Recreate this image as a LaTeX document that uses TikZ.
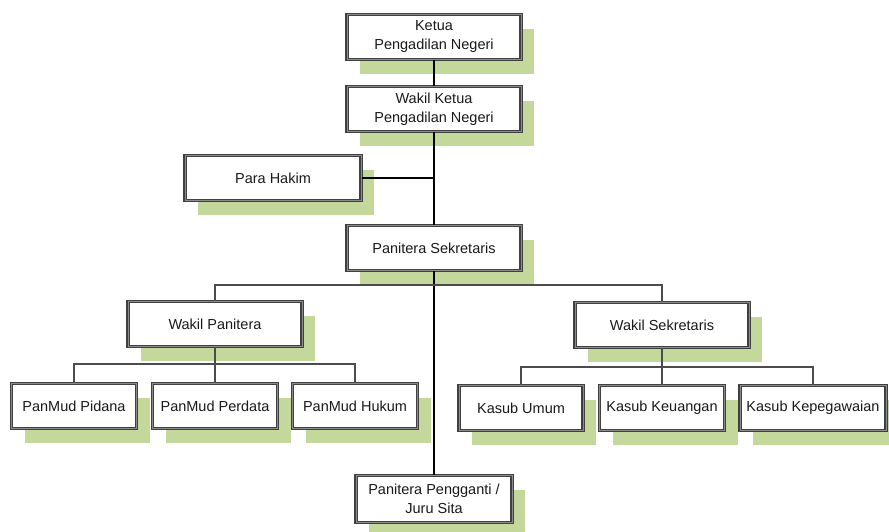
\documentclass[tikz,border=0pt]{standalone}
\usepackage{fontspec}
\setmainfont{Liberation Sans}
\usetikzlibrary{shadows, positioning}
\definecolor{kijau}{RGB}{196,216,156}
\tikzstyle{jabatan} = [rectangle, draw=black!75, double=black!45, double distance=1pt, line width=1.2pt, fill=white, text=black!90, align=center, minimum width=174pt, minimum height=45pt, inner sep=2pt, drop shadow={shadow xshift=13pt, shadow yshift=-14pt, fill=kijau, opacity=1}]
\tikzstyle{kecil} = [jabatan, minimum width=125pt]
\tikzstyle{garis} = [line width=1.6pt, black]
\tikzstyle{cabang} = [line width=1.3pt, black!70]

\begin{document}
\begin{tikzpicture}[x=1pt, y=1pt, node distance=72pt, every node/.style={font=\fontsize{14.5}{19}\selectfont}]
\useasboundingbox (0,0) rectangle (889,-531);

\node (ketua) [jabatan] at (434,-37) {Ketua\\Pengadilan Negeri};
\node (wketua) [jabatan, below of=ketua] {Wakil Ketua\\Pengadilan Negeri};
\node (hakim) [jabatan, minimum width=176pt] at (273,-178) {Para Hakim};
\node (pansek) [jabatan, below of=wketua, yshift=-67pt] {Panitera Sekretaris};
\node (wpan) [jabatan] at (215,-324) {Wakil Panitera};
\node (wsek) [jabatan] at (662,-325) {Wakil Sekretaris};

\node (pidana) [kecil] at (74,-406) {PanMud Pidana};
\node (perdata) [kecil] at (215,-406) {PanMud Perdata};
\node (hukum) [kecil] at (355,-406) {PanMud Hukum};

\node (umum) [kecil, minimum width=124pt] at (521,-408) {Kasub Umum};
\node (uang) [kecil] at (662,-408) {Kasub Keuangan};
\node (pegawai) [kecil, minimum width=146pt] at (813,-408) {Kasub Kepegawaian};

\node (pengganti) [jabatan, minimum width=156pt, minimum height=47pt] at (434,-499) {Panitera Pengganti /\\Juru Sita};

\coordinate (simpul) at (434,-285);
\coordinate (kiri) at (215,-364);
\coordinate (kanan) at (662,-367);

\draw [garis] (ketua) -- (wketua);
\draw [garis] (wketua) -- (pansek);
\draw [garis] (hakim.east) -- (hakim.east -| pansek);
\draw [garis] (pansek) -- (pengganti);
\draw [cabang] (wpan.north) |- (simpul) -| (wsek.north);
\draw [cabang] (wpan) -- (perdata);
\draw [cabang] (pidana.north) |- (kiri) -| (hukum.north);
\draw [cabang] (wsek) -- (uang);
\draw [cabang] (umum.north) |- (kanan) -| (pegawai.north);
\end{tikzpicture}
\end{document}
